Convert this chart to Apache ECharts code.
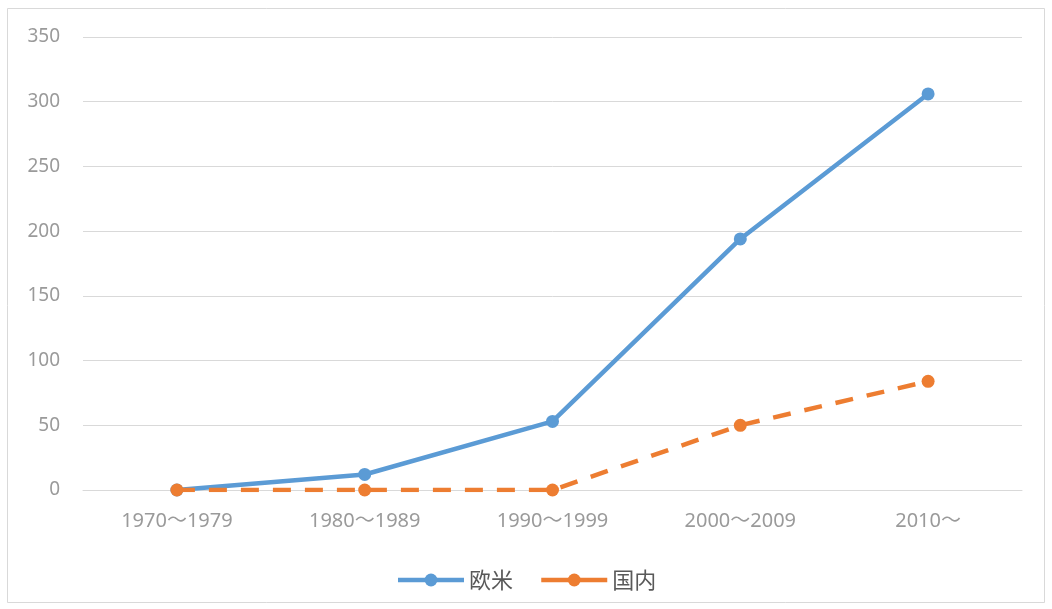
<!DOCTYPE html>
<html>
<head>
<meta charset="utf-8">
<script src="https://cdn.jsdelivr.net/npm/echarts@6/dist/echarts.min.js"></script>
<style>
  html, body { margin: 0; padding: 0; background: #fff; }
  #chart { width: 1052px; height: 609px; }
</style>
</head>
<body>
<div id="chart"></div>
<script>
const categories = ['1970～1979', '1980～1989', '1990～1999', '2000～2009', '2010～'];
const westValues = [0, 12, 53, 194, 306];
const domesticValues = [0, 0, 0, 50, 84];
const seriesNames = ['欧米', '国内'];

const myChart = echarts.init(document.getElementById('chart'));

const option = {
  backgroundColor: '#fff',
  animation: false,
  graphic: [{
    type: 'rect',
    shape: { x: 7.5, y: 8.5, width: 1037, height: 594 },
    style: { fill: 'none', stroke: '#d9d9d9', lineWidth: 1 }
  }],
  grid: {
    left: 83,
    right: 30,
    top: 37,
    bottom: 119
  },
  legend: {
    bottom: 13,
    left: 'center',
    itemWidth: 66,
    itemHeight: 16,
    itemGap: 26,
    textStyle: {
      color: '#595959',
      fontSize: 22,
      fontFamily: 'Noto Sans CJK JP'
    },
    data: [
      { name: seriesNames[0], itemStyle: { color: '#5b9bd5' }, lineStyle: { type: 'solid', width: 4.5 } },
      { name: seriesNames[1], itemStyle: { color: '#ed7d31' }, lineStyle: { type: 'solid', width: 4.5 } }
    ]
  },
  xAxis: {
    type: 'category',
    boundaryGap: true,
    data: categories,
    axisLine: { show: true, lineStyle: { color: '#d9d9d9', width: 1 } },
    axisTick: { show: false },
    axisLabel: {
      color: '#9a9a9a',
      fontSize: 20,
      margin: 21,
      fontFamily: 'Noto Sans, Noto Sans CJK JP'
    },
    splitLine: { show: false }
  },
  yAxis: {
    type: 'value',
    min: 0,
    max: 350,
    interval: 50,
    axisLine: { show: false },
    axisTick: { show: false },
    axisLabel: {
      color: '#9a9a9a',
      fontSize: 19,
      margin: 23,
      fontFamily: 'Noto Sans, sans-serif'
    },
    splitLine: { lineStyle: { color: '#d9d9d9', width: 1 } }
  },
  series: [
    {
      name: seriesNames[0],
      type: 'line',
      data: westValues,
      symbol: 'circle',
      symbolSize: 13,
      z: 2,
      itemStyle: { color: '#5b9bd5' },
      lineStyle: { color: '#5b9bd5', width: 4.5 }
    },
    {
      name: seriesNames[1],
      type: 'line',
      data: domesticValues,
      symbol: 'circle',
      symbolSize: 13,
      z: 3,
      itemStyle: { color: '#ed7d31' },
      lineStyle: { color: '#ed7d31', width: 4.5, type: [18, 14] }
    }
  ]
};

myChart.setOption(option);
</script>
</body>
</html>
